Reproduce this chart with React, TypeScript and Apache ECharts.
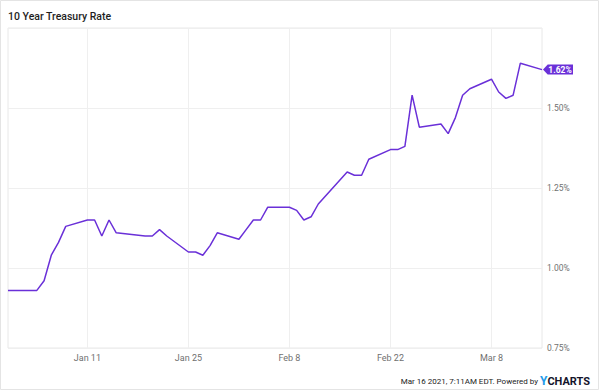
import React, { useEffect, useRef } from "react";
import * as echarts from "echarts";

const dates: string[] = [
  "2020-12-31", "2021-01-04", "2021-01-05", "2021-01-06", "2021-01-07", "2021-01-08",
  "2021-01-11", "2021-01-12", "2021-01-13", "2021-01-14", "2021-01-15",
  "2021-01-19", "2021-01-20", "2021-01-21", "2021-01-22",
  "2021-01-25", "2021-01-26", "2021-01-27", "2021-01-28", "2021-01-29",
  "2021-02-01", "2021-02-02", "2021-02-03", "2021-02-04", "2021-02-05",
  "2021-02-08", "2021-02-09", "2021-02-10", "2021-02-11", "2021-02-12",
  "2021-02-16", "2021-02-17", "2021-02-18", "2021-02-19",
  "2021-02-22", "2021-02-23", "2021-02-24", "2021-02-25", "2021-02-26",
  "2021-03-01", "2021-03-02", "2021-03-03", "2021-03-04", "2021-03-05",
  "2021-03-08", "2021-03-09", "2021-03-10", "2021-03-11", "2021-03-12",
  "2021-03-15",
];

const rates: number[] = [
  0.93, 0.93, 0.96, 1.04, 1.08, 1.13,
  1.15, 1.15, 1.10, 1.15, 1.11,
  1.10, 1.10, 1.12, 1.10,
  1.05, 1.05, 1.04, 1.07, 1.11,
  1.09, 1.12, 1.15, 1.15, 1.19,
  1.19, 1.18, 1.15, 1.16, 1.20,
  1.30, 1.29, 1.29, 1.34,
  1.37, 1.37, 1.38, 1.54, 1.44,
  1.45, 1.42, 1.47, 1.54, 1.56,
  1.59, 1.55, 1.53, 1.54, 1.64,
  1.62,
];

const xTickDates: string[] = ["2021-01-11", "2021-01-25", "2021-02-08", "2021-02-22", "2021-03-08"];
const xMinDate = "2020-12-31";
const xMaxDate = "2021-03-15";
const yTicks: number[] = [0.75, 1.0, 1.25, 1.5, 1.75];

const title = "10 Year Treasury Rate";
const footerText = "Mar 16 2021, 7:11AM EDT. Powered by";

const MONTHS = ["Jan", "Feb", "Mar", "Apr", "May", "Jun", "Jul", "Aug", "Sep", "Oct", "Nov", "Dec"];
const toTs = (s: string) => {
  const [y, m, d] = s.split("-").map(Number);
  return new Date(y, m - 1, d).getTime();
};

const FONT = "Roboto, sans-serif";
const PURPLE = "#6a30d8";

export default function App() {
  const ref = useRef<HTMLDivElement>(null);
  useEffect(() => {
    if (!ref.current) return;
    const chart = echarts.init(ref.current, undefined, { renderer: "svg" });
    const lastIdx = dates.length - 1;
    const tickVals = xTickDates.map(toTs);
    chart.setOption({
      animation: false,
      backgroundColor: "#ffffff",
      textStyle: { fontFamily: FONT },
      grid: {
        left: 8,
        right: 58,
        top: 28,
        bottom: 43,
        show: true,
        borderColor: "#e8e8e8",
        borderWidth: 1,
        containLabel: false,
      },
      xAxis: {
        type: "value",
        min: toTs(xMinDate),
        max: toTs(xMaxDate),
        axisLine: { show: false },
        axisTick: { show: false, customValues: tickVals },
        splitLine: { show: false },
        axisLabel: {
          customValues: tickVals,
          showMinLabel: true,
          showMaxLabel: true,
          color: "#707070",
          fontSize: 9,
          fontFamily: FONT,
          margin: 5,
          formatter: (v: number) => {
            const d = new Date(v);
            return MONTHS[d.getMonth()] + " " + d.getDate();
          },
        },
      },
      yAxis: {
        type: "value",
        position: "right",
        min: yTicks[0],
        max: yTicks[yTicks.length - 1],
        interval: 0.25,
        axisLine: { show: false },
        axisTick: { show: false },
        splitLine: { show: true, lineStyle: { color: "#efefef", width: 1 } },
        axisLabel: {
          showMaxLabel: false,
          color: "#707070",
          fontSize: 8.5,
          fontFamily: FONT,
          margin: 5,
          padding: [0, 0, 7, 0],
          formatter: (v: number) => v.toFixed(2) + "%",
        },
      },
      series: [
        {
          type: "line",
          data: dates.map((d, i) => [toTs(d), rates[i]]),
          showSymbol: false,
          symbol: "none",
          lineStyle: { color: PURPLE, width: 1.5 },
          itemStyle: { color: PURPLE },
          markLine: {
            silent: true,
            symbol: "none",
            label: { show: false },
            lineStyle: { color: "#efefef", width: 1, type: "solid" },
            data: tickVals.map((t) => ({ xAxis: t })),
            z: 1,
          },
          markPoint: {
            silent: true,
            symbol: "path://M0,5 L5,0 L32,0 L32,10 L5,10 Z",
            symbolSize: [30, 10],
            symbolKeepAspect: false,
            symbolOffset: [16, 0],
            itemStyle: { color: PURPLE },
            label: {
              show: true,
              position: "inside",
              offset: [2, 0],
              color: "#ffffff",
              fontSize: 8.5,
              fontWeight: "bold",
              fontFamily: FONT,
              formatter: (p: any) => Number(p.value).toFixed(2) + "%",
            },
            data: [
              { coord: [toTs(dates[lastIdx]), rates[lastIdx]], value: rates[lastIdx] },
            ],
          },
        },
      ],
      graphic: [
        {
          type: "rect",
          shape: { x: 0.5, y: 0.5, width: 598, height: 389 },
          style: { fill: "none", stroke: "#e4e4e4", lineWidth: 1 },
          silent: true,
        },
        {
          type: "text",
          x: 8,
          y: 16,
          style: {
            text: title,
            fill: "#1e1e1e",
            font: "500 10.5px " + FONT,
            verticalAlign: "middle",
          },
        },
        {
          type: "text",
          x: 538,
          y: 381,
          style: {
            text: footerText,
            fill: "#222222",
            font: "8px " + FONT,
            align: "right",
            verticalAlign: "middle",
          },
        },
        {
          type: "text",
          x: 540,
          y: 381,
          style: {
            text: "{y|Y}{c|CHARTS}",
            verticalAlign: "middle",
            align: "left",
            rich: {
              y: { fill: "#1e9be9", font: "bold 12px Roboto, sans-serif" },
              c: { fill: "#14142b", font: "bold 11px Roboto, sans-serif" },
            },
          },
        },
      ],
    });
    return () => chart.dispose();
  }, []);
  return (
    <div
      ref={ref}
      style={{ position: "fixed", left: 0, top: 0, width: 600, height: 391 }}
    />
  );
}
